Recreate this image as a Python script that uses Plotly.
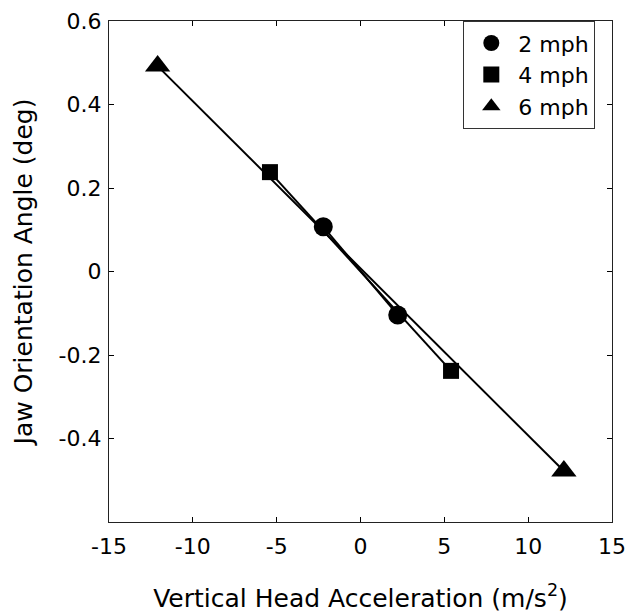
import plotly.graph_objects as go

series_names = ["2 mph", "4 mph", "6 mph"]
x_2mph = [-2.22, 2.22]
y_2mph = [0.107, -0.104]
x_4mph = [-5.4, 5.4]
y_4mph = [0.238, -0.238]
x_6mph = [-12.1, 12.13]
y_6mph = [0.492, -0.478]
x_ticks = [-15, -10, -5, 0, 5, 10, 15]
x_tick_labels = ["-15", "-10", "-5", "0", "5", "10", "15"]
y_ticks = [-0.4, -0.2, 0, 0.2, 0.4, 0.6]
y_tick_labels = ["-0.4", "-0.2", "0", "0.2", "0.4", "0.6"]

symbols = ["circle", "square", "triangle-up"]
sizes = [19, 16, 22]
xs = [x_2mph, x_4mph, x_6mph]
ys = [y_2mph, y_4mph, y_6mph]

fig = go.Figure()
for xv, yv in zip(xs, ys):
    fig.add_trace(go.Scatter(x=xv, y=yv, mode="lines",
                             line=dict(color="black", width=2),
                             showlegend=False, hoverinfo="skip"))
for name, xv, yv, sym, sz in zip(series_names, xs, ys, symbols, sizes):
    fig.add_trace(go.Scatter(x=xv, y=yv, mode="markers", name=name,
                             marker=dict(symbol=sym, size=sz, color="black",
                                         line=dict(width=0))))

font = "DejaVu Sans, Liberation Sans, Arial, sans-serif"
fig.update_layout(
    width=639, height=612,
    margin=dict(l=101, r=35, t=13, b=98, autoexpand=False),
    paper_bgcolor="white", plot_bgcolor="white",
    font=dict(family=font, size=22, color="black"),
    showlegend=True,
    legend=dict(x=0.704, y=1, xanchor="left", yanchor="top",
                bordercolor="#333", borderwidth=1.2, bgcolor="white",
                font=dict(size=22), itemwidth=44, tracegroupgap=0),
    xaxis=dict(range=[-15, 15], tickvals=x_ticks, ticktext=x_tick_labels,
               ticks="inside", ticklen=5, tickfont=dict(size=22),
               tickcolor="black", showline=True, linecolor="#222", linewidth=1.2,
               mirror="ticks", showgrid=False, zeroline=False, automargin=False,
               ticklabelstandoff=4,
               title=dict(text="Vertical Head Acceleration (m/s<sup>2</sup>)",
                          font=dict(size=25), standoff=31)),
    yaxis=dict(range=[-0.6, 0.6], tickvals=y_ticks, ticktext=y_tick_labels,
               ticks="inside", ticklen=5, tickfont=dict(size=22), tickcolor="black",
               showline=True, automargin=False,
               linecolor="#222", linewidth=1.2, mirror="ticks", showgrid=False,
               zeroline=False, ticklabelstandoff=2,
               title=dict(text="Jaw Orientation Angle (deg)",
                          font=dict(size=25), standoff=18)),
)

fig.write_html("out.html")
